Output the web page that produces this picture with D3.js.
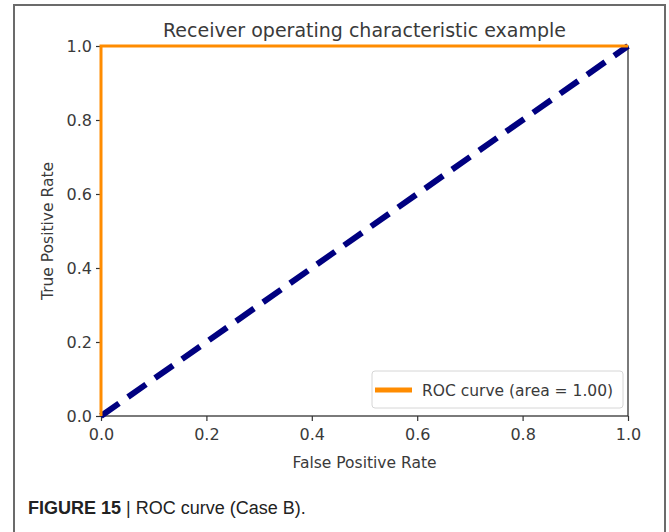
<!DOCTYPE html>
<html>
<head>
<meta charset="utf-8">
<script src="https://cdn.jsdelivr.net/npm/d3@7"></script>
<style>
  html, body { margin: 0; padding: 0; background: #fff; }
  svg { display: block; }
</style>
</head>
<body>
<svg id="chart" width="669" height="532"></svg>
<script>
// ROC curve points (false positive rate, true positive rate)
const rocFpr = [0.0, 0.0, 1.0];
const rocTpr = [0.0, 1.0, 1.0];
// Chance (random classifier) diagonal
const chanceFpr = [0.0, 1.0];
const chanceTpr = [0.0, 1.0];
const rocArea = 1.00;
const xTicks = [0.0, 0.2, 0.4, 0.6, 0.8, 1.0];
const yTicks = [0.0, 0.2, 0.4, 0.6, 0.8, 1.0];

const svg = d3.select("#chart");
const plot = { left: 101, right: 628, top: 46, bottom: 416 };

// Figure frame (open at the bottom)
svg.append("path")
  .attr("d", `M14,532 L14,5 L665,5 L665,532`)
  .attr("fill", "none")
  .attr("stroke", "#6b6b6b")
  .attr("stroke-width", 2);

const x = d3.scaleLinear().domain([0, 1]).range([plot.left, plot.right]);
const y = d3.scaleLinear().domain([0, 1]).range([plot.bottom, plot.top]);

const axisFont = "DejaVu Sans, sans-serif";
const textColor = "#3a3a3a";

// Axes
const xAxis = svg.append("g")
  .attr("transform", `translate(0,${plot.bottom})`)
  .call(d3.axisBottom(x).tickValues(xTicks).tickFormat(d3.format(".1f")).tickSize(5).tickPadding(8));
const yAxis = svg.append("g")
  .attr("transform", `translate(${plot.left},0)`)
  .call(d3.axisLeft(y).tickValues(yTicks).tickFormat(d3.format(".1f")).tickSize(5).tickPadding(4));
[xAxis, yAxis].forEach(a => {
  a.select(".domain").remove();
  a.selectAll(".tick line").attr("stroke", "#333").attr("stroke-width", 1.2);
  a.selectAll(".tick text")
    .attr("fill", textColor)
    .style("font-family", axisFont)
    .style("font-size", "16px");
});

// Spines
svg.append("rect")
  .attr("x", plot.left).attr("y", plot.top)
  .attr("width", plot.right - plot.left).attr("height", plot.bottom - plot.top)
  .attr("fill", "none").attr("stroke", "#333").attr("stroke-width", 1.3);

// Chance diagonal
const line = d3.line().x(d => x(d[0])).y(d => y(d[1]));
svg.append("path")
  .datum(d3.zip(chanceFpr, chanceTpr))
  .attr("d", line)
  .attr("fill", "none")
  .attr("stroke", "#000080")
  .attr("stroke-width", 6)
  .attr("stroke-dasharray", "22,11");

// ROC curve
svg.append("path")
  .datum(d3.zip(rocFpr, rocTpr))
  .attr("d", line)
  .attr("fill", "none")
  .attr("stroke", "#ff8c00")
  .attr("stroke-width", 3);

// Title and axis labels
svg.append("text")
  .attr("x", (plot.left + plot.right) / 2).attr("y", 37)
  .attr("text-anchor", "middle")
  .attr("fill", textColor)
  .style("font-family", axisFont).style("font-size", "19px")
  .text("Receiver operating characteristic example");
svg.append("text")
  .attr("x", (plot.left + plot.right) / 2).attr("y", 468)
  .attr("text-anchor", "middle")
  .attr("fill", textColor)
  .style("font-family", axisFont).style("font-size", "15.5px")
  .text("False Positive Rate");
svg.append("text")
  .attr("transform", `translate(53,${(plot.top + plot.bottom) / 2}) rotate(-90)`)
  .attr("text-anchor", "middle")
  .attr("fill", textColor)
  .style("font-family", axisFont).style("font-size", "15.5px")
  .text("True Positive Rate");

// Legend
const lg = svg.append("g");
lg.append("rect")
  .attr("x", 372).attr("y", 371).attr("width", 251).attr("height", 37).attr("rx", 3)
  .attr("fill", "#fff").attr("fill-opacity", 0.85)
  .attr("stroke", "#d6d6d6").attr("stroke-width", 1);
lg.append("line")
  .attr("x1", 375).attr("x2", 412).attr("y1", 390).attr("y2", 390)
  .attr("stroke", "#ff8c00").attr("stroke-width", 5);
lg.append("text")
  .attr("x", 422).attr("y", 395.5)
  .attr("fill", textColor)
  .style("font-family", axisFont).style("font-size", "15.5px")
  .text(`ROC curve (area = ${rocArea.toFixed(2)})`);

// Caption
const cap = svg.append("text")
  .attr("x", 28).attr("y", 514)
  .attr("fill", "#222")
  .style("font-family", "Liberation Sans, Arial, sans-serif").style("font-size", "18px");
cap.append("tspan").attr("font-weight", "bold").text("FIGURE 15");
cap.append("tspan").text(" | ROC curve (Case B).");
</script>
</body>
</html>
